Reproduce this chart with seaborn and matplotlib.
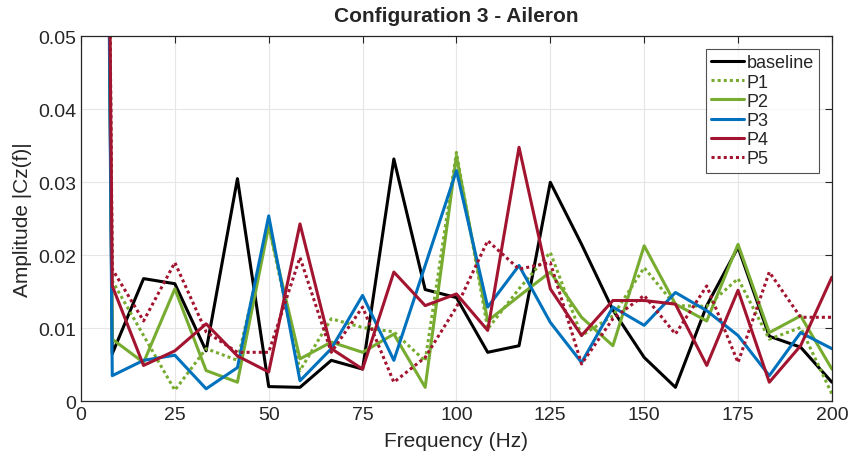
import matplotlib
matplotlib.use("Agg")
import matplotlib.pyplot as plt
import seaborn as sns
import numpy as np

# Frequency bins (Hz) and amplitudes (x 1e-3)
freq = [0, 8.33, 16.67, 25, 33.33, 41.67, 50, 58.33, 66.67, 75, 83.33, 91.67, 100,
        108.33, 116.67, 125, 133.33, 141.67, 150, 158.33, 166.67, 175, 183.33, 191.67, 200]

baseline = [500, 6.5, 16.8, 16.1, 6.9, 30.5, 2.0, 1.9, 5.6, 4.4, 33.2, 15.3, 14.2,
            6.7, 7.6, 30.0, 21.5, 12.5, 6.0, 1.9, 13.1, 21.1, 8.9, 7.4, 2.6]
p1 = [500, 16.5, 9.0, 1.5, 7.2, 5.6, 24.0, 4.2, 11.3, 10.1, 9.5, 5.5, 34.1,
      9.9, 15.4, 20.4, 9.0, 11.7, 18.3, 13.1, 13.0, 16.8, 8.5, 10.1, 1.0]
p2 = [500, 8.5, 5.3, 15.4, 4.2, 2.6, 24.0, 5.8, 8.1, 6.7, 9.2, 1.9, 33.6,
      11.0, 14.4, 17.7, 11.5, 7.6, 21.3, 13.3, 11.0, 21.5, 9.4, 11.7, 4.4]
p3 = [500, 3.5, 5.6, 6.3, 1.7, 4.6, 25.4, 2.8, 7.2, 14.5, 5.6, 18.6, 31.6,
      12.9, 18.6, 10.8, 5.3, 12.9, 10.4, 14.9, 12.4, 9.0, 3.5, 9.4, 7.2]
p4 = [500, 15.8, 4.9, 6.9, 10.6, 6.2, 4.0, 24.3, 7.2, 4.4, 17.7, 13.1, 14.7,
      9.7, 34.8, 15.4, 9.0, 13.8, 13.8, 13.3, 4.9, 15.2, 2.6, 7.6, 17.0]
p5 = [500, 18.1, 11.0, 19.0, 9.5, 6.7, 6.7, 19.7, 6.7, 12.9, 2.6, 6.0, 12.9,
      22.0, 18.1, 19.0, 5.1, 11.3, 14.5, 9.2, 15.8, 5.3, 17.7, 11.5, 11.5]

labels = ["baseline", "P1", "P2", "P3", "P4", "P5"]
series = [baseline, p1, p2, p3, p4, p5]
colors = ["#000000", "#77AC30", "#77AC30", "#0072BD", "#A2142F", "#A2142F"]
styles = ["-", (0, (1, 1)), "-", "-", "-", (0, (1, 1))]

xticks = [0, 25, 50, 75, 100, 125, 150, 175, 200]
yticks = [0, 0.01, 0.02, 0.03, 0.04, 0.05]
ytick_labels = ["0", "0.01", "0.02", "0.03", "0.04", "0.05"]

sns.set_style("white")
plt.rcParams["font.family"] = ["Liberation Sans", "DejaVu Sans"]

fig = plt.figure(figsize=(8.48, 4.56), dpi=100)
ax = fig.add_axes([0.0955, 0.118, 0.8855, 0.8])

for name, vals, c, ls in zip(labels, series, colors, styles):
    sns.lineplot(x=freq, y=np.array(vals) / 1000.0, color=c, linestyle=ls,
                 linewidth=2.2, label=name, ax=ax)

ax.set_xlim(0, 200)
ax.set_ylim(0, 0.05)
ax.set_xticks(xticks)
ax.set_yticks(yticks)
ax.set_yticklabels(ytick_labels)
ax.grid(True, color="#e6e6e6", linewidth=0.8)
ax.tick_params(direction="in", top=True, right=True, labelsize=14,
               colors="#262626", length=5, width=0.8)
for s in ax.spines.values():
    s.set_color("#262626")
    s.set_linewidth(0.9)

ax.set_xlabel("Frequency (Hz)", fontsize=15, color="#262626", labelpad=6)
ax.set_ylabel("Amplitude |Cz(f)|", fontsize=15, color="#262626", labelpad=4)
ax.set_title("Configuration 3 - Aileron", fontsize=15, fontweight="bold", pad=11)

leg = ax.legend(loc="upper right", fontsize=13, frameon=True, fancybox=False,
                handlelength=1.8, handletextpad=0.15, labelspacing=0.12,
                borderpad=0.3, borderaxespad=0.7)
leg.get_frame().set_edgecolor("#262626")
leg.get_frame().set_linewidth(0.8)

fig.savefig("out.png", dpi=100)
